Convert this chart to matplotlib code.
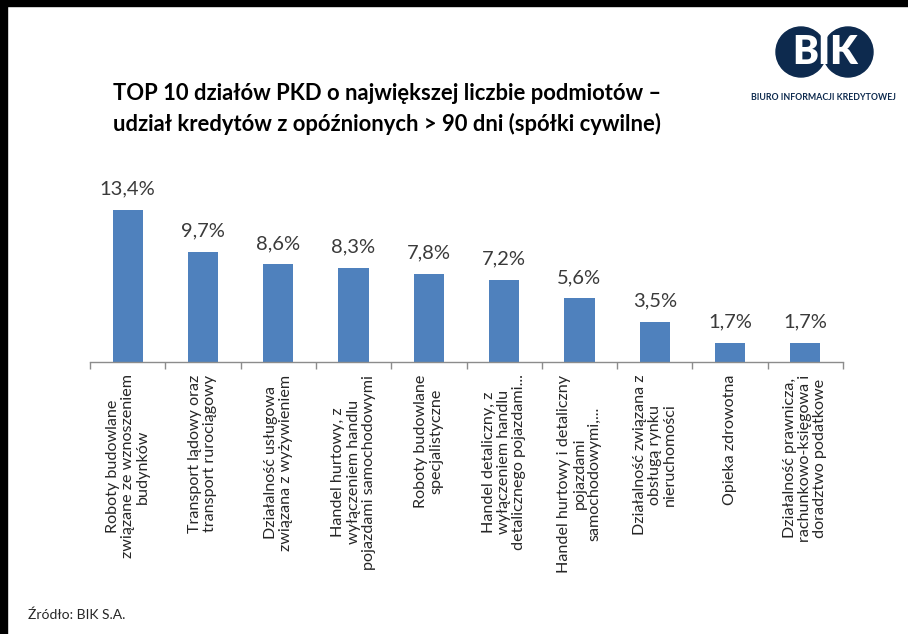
import matplotlib
matplotlib.use("Agg")
import matplotlib.pyplot as plt
from matplotlib.patches import Circle, Rectangle

plt.rcParams['font.family'] = ['Lato', 'DejaVu Sans']

categories = [
    "Roboty budowlane\nzwiązane ze wznoszeniem\nbudynków",
    "Transport lądowy oraz\ntransport rurociągowy",
    "Działalność usługowa\nzwiązana z wyżywieniem",
    "Handel hurtowy, z\nwyłączeniem handlu\npojazdami samochodowymi",
    "Roboty budowlane\nspecjalistyczne",
    "Handel detaliczny, z\nwyłączeniem handlu\ndetalicznego pojazdami...",
    "Handel hurtowy i detaliczny\npojazdami\nsamochodowymi,...",
    "Działalność związana z\nobsługą rynku\nnieruchomości",
    "Opieka zdrowotna",
    "Działalność prawnicza,\nrachunkowo-księgowa i\ndoradztwo podatkowe",
]
values = [13.4, 9.7, 8.6, 8.3, 7.8, 7.2, 5.6, 3.5, 1.7, 1.7]
value_labels = ["13,4%", "9,7%", "8,6%", "8,3%", "7,8%", "7,2%", "5,6%", "3,5%", "1,7%", "1,7%"]

title_lines = ["TOP 10 działów PKD o największej liczbie podmiotów –",
               "udział kredytów z opóźnionych > 90 dni (spółki cywilne)"]
source = "Źródło: BIK S.A."

W, H = 908, 634
fig = plt.figure(figsize=(W / 100, H / 100), dpi=100)
fig.patch.set_facecolor('white')

# main axes in pixel geometry
x0, x1 = 90, 843
ybase = 362
ymax = 16
px_per_unit = 11.34
ytop = ybase - ymax * px_per_unit
ax = fig.add_axes([x0 / W, (H - ybase) / H, (x1 - x0) / W, (ybase - ytop) / H])
xs = list(range(len(values)))
ax.bar(xs, values, width=0.4, color='#4F81BD', zorder=2)
ax.set_xlim(-0.5, len(values) - 0.5)
ax.set_ylim(0, ymax)
for s in ['top', 'right', 'left']:
    ax.spines[s].set_visible(False)
ax.spines['bottom'].set_color('#8C8C8C')
ax.spines['bottom'].set_linewidth(1.0)
ax.set_yticks([])
ax.set_xticks([i - 0.5 for i in range(len(values) + 1)], minor=False)
ax.set_xticklabels([])
ax.tick_params(axis='x', direction='out', length=5, color='#8C8C8C', width=1.0)
ax.patch.set_alpha(0)

for i, (v, lab) in enumerate(zip(values, value_labels)):
    ax.annotate(lab, (i, v), xytext=(0, 9), textcoords='offset points',
                ha='center', va='bottom', fontsize=14.5, color='#3A3A3A')

for i, c in enumerate(categories):
    ax.annotate(c, (i, 0), xytext=(0, -9), textcoords='offset points',
                ha='center', va='top', rotation=90, fontsize=11.6,
                color='#262626', multialignment='center', linespacing=1.1)

# overlay for decorations in pixel coords
ov = fig.add_axes([0, 0, 1, 1], zorder=-1)
ov.set_xlim(0, W)
ov.set_ylim(H, 0)
ov.axis('off')
ov.add_patch(Rectangle((0, 0), W, 6, color='black'))
ov.add_patch(Rectangle((0, 0), 7, H, color='black'))

ov2 = fig.add_axes([0, 0, 1, 1], zorder=5)
ov2.set_xlim(0, W)
ov2.set_ylim(H, 0)
ov2.axis('off')
ov2.patch.set_alpha(0)
navy = '#0D2A4E'
ov2.add_patch(Circle((801, 52), 25, color=navy))
ov2.add_patch(Circle((848, 52), 25, color=navy))
ov2.text(825, 53, "BIK", color='white', fontsize=28, fontweight='heavy',
         ha='center', va='center', family=['Lato', 'DejaVu Sans'])
ov2.text(823, 97, "BIURO INFORMACJI KREDYTOWEJ", color=navy, fontsize=6.3,
         fontweight='bold', ha='center', va='center')

ov2.text(113, 93, title_lines[0], fontsize=15.8, fontweight='bold',
         ha='left', va='center', color='black')
ov2.text(113, 124, title_lines[1], fontsize=15.8, fontweight='bold',
         ha='left', va='center', color='black')
ov2.text(28, 615, source, fontsize=10, ha='left', va='center', color='#262626')

fig.savefig('out.png', dpi=100)
